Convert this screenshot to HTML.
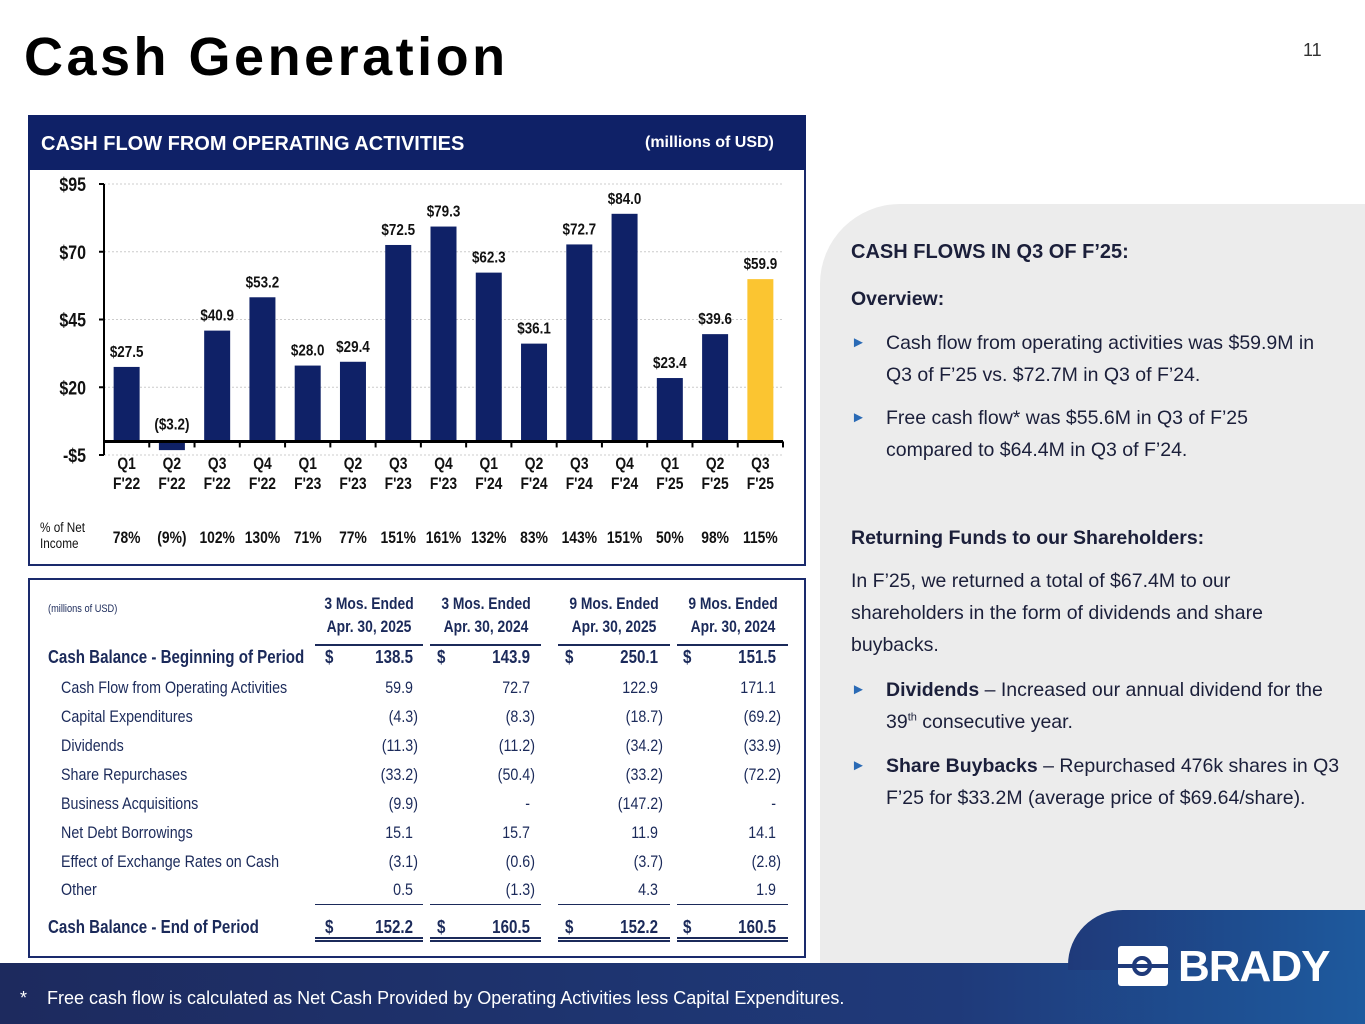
<!DOCTYPE html>
<html><head><meta charset="utf-8">
<style>
*{margin:0;padding:0;box-sizing:border-box}
body{width:1365px;height:1024px;position:relative;overflow:hidden;background:#fff;font-family:"Liberation Sans",sans-serif;color:#1b2a5a}
.abs{position:absolute}
.tr{position:absolute;font-size:16px;white-space:nowrap}
.nl{transform:scaleX(0.84);transform-origin:left center}
.nr{transform:scaleX(0.84);transform-origin:right center}
.nc{transform:scaleX(0.84);transform-origin:center center}
.r{text-align:right;width:100px}
.b{font-weight:bold}
.rt{position:absolute;left:851px;width:500px;font-size:19.5px;color:#1b1f3a;line-height:32px}
.bl{padding-left:35px}
.bl span.ar{position:absolute;left:0;color:#2a6ab5;font-size:15px}
</style></head><body>
<div class="abs b" style="left:24px;top:26px;font-size:54px;color:#000;letter-spacing:3.5px;font-weight:900">Cash Generation</div>
<div class="abs" style="left:1303px;top:40px;font-size:18px;color:#333">11</div>

<div class="abs" style="left:820px;top:204px;width:560px;height:780px;background:#ececec;border-top-left-radius:80px"></div>
<div class="rt b" style="top:236px;font-size:20px">CASH FLOWS IN Q3 OF F’25:</div>
<div class="rt b" style="top:283px">Overview:</div>
<div class="rt bl" style="top:327px;width:492px"><span class="ar">►</span>Cash flow from operating activities was $59.9M in Q3 of F’25 vs. $72.7M in Q3 of F’24.</div>
<div class="rt bl" style="top:402px;width:470px"><span class="ar">►</span>Free cash flow* was $55.6M in Q3 of F’25 compared to $64.4M in Q3 of F’24.</div>
<div class="rt b" style="top:522px">Returning Funds to our Shareholders:</div>
<div class="rt" style="top:565px;width:460px">In F’25, we returned a total of $67.4M to our shareholders in the form of dividends and share buybacks.</div>
<div class="rt bl" style="top:674px;width:495px"><span class="ar">►</span><b>Dividends</b> – Increased our annual dividend for the 39<sup style="font-size:11px;line-height:0">th</sup> consecutive year.</div>
<div class="rt bl" style="top:750px;width:495px"><span class="ar">►</span><b>Share Buybacks</b> – Repurchased 476k shares in Q3 F’25 for $33.2M (average price of $69.64/share).</div>

<div class="abs" style="left:28px;top:115px;width:778px;height:451px;border:2px solid #1a2a6c"></div>
<div class="abs" style="left:28px;top:115px;width:778px;height:55px;background:#0f2167"></div>
<div class="abs b" style="left:41px;top:133px;font-size:20px;color:#fff">CASH FLOW FROM OPERATING ACTIVITIES</div>
<div class="abs b" style="left:645px;top:134px;font-size:16px;color:#fff">(millions of USD)</div>
<svg class="abs" id="chart" style="left:0;top:0" width="820" height="570"></svg>

<div class="abs" style="left:28px;top:578px;width:778px;height:380px;border:2px solid #1a2a6c"></div>
<div id="tbl"></div>

<div class="abs" style="left:0;top:963px;width:1365px;height:61px;background:linear-gradient(90deg,#1d2a5e,#1f3a7a 70%,#1e5a9e)"></div>
<div class="abs" style="left:1068px;top:910px;width:300px;height:60px;background:linear-gradient(90deg,#1f3a7a,#1e5a9e);border-top-left-radius:55px"></div>
<div class="abs" style="left:1118px;top:946px;width:50px;height:40px;background:#fff;border-radius:3px"><div style="position:absolute;left:14px;top:10px;width:20px;height:20px;border-radius:50%;border:4px solid #1f3a7a"></div><div style="position:absolute;left:0;top:18px;width:50px;height:4px;background:#1f3a7a"></div></div>
<div class="abs b" style="left:1178px;top:942px;font-size:44px;color:#fff;letter-spacing:-1px">BRADY</div>
<div class="abs" style="left:20px;top:988px;font-size:18px;color:#fff">*&nbsp;&nbsp;&nbsp;&nbsp;Free cash flow is calculated as Net Cash Provided by Operating Activities less Capital Expenditures.</div>

<script>
const categories=["Q1|F'22","Q2|F'22","Q3|F'22","Q4|F'22","Q1|F'23","Q2|F'23","Q3|F'23","Q4|F'23","Q1|F'24","Q2|F'24","Q3|F'24","Q4|F'24","Q1|F'25","Q2|F'25","Q3|F'25"];
const values=[27.5,-3.2,40.9,53.2,28.0,29.4,72.5,79.3,62.3,36.1,72.7,84.0,23.4,39.6,59.9];
const pctNetIncome=["78%","(9%)","102%","130%","71%","77%","151%","161%","132%","83%","143%","151%","50%","98%","115%"];
const yTicks=[-5,20,45,70,95];
const yTickLabels=["-$5","$20","$45","$70","$95"];
const NS='http://www.w3.org/2000/svg';
const svg=document.getElementById('chart');
const yMin=-5,yMax=95,pTop=184,pBot=455,axX=104,pRight=783;
const y=v=>pBot-(v-yMin)/(yMax-yMin)*(pBot-pTop);
const step=(pRight-axX)/categories.length;
const xc=i=>axX+step*(i+0.5);
function mk(t,a){const e=document.createElementNS(NS,t);for(const k in a)e.setAttribute(k,a[k]);svg.appendChild(e);return e;}
function txt(x,yy,s,size,anchor,bold){const t=mk('text',{transform:`translate(${x} ${yy}) scale(0.84 1)`,'text-anchor':anchor,'font-size':size,'font-weight':bold?'bold':'normal',fill:'#111'});t.textContent=s;return t;}
yTicks.forEach((t,i)=>{
 const g=mk('line',{x1:axX,x2:pRight,y1:y(t),y2:y(t),stroke:'#ccc','stroke-dasharray':'2,2'});
 
 
 const l=txt(axX-18,y(t)+7,yTickLabels[i],19,'end',true);
 
 
 mk('line',{x1:axX-5,x2:axX,y1:y(t),y2:y(t),stroke:'#000','stroke-width':2});
});
const ax=mk('line',{x1:axX,x2:axX,y1:pTop,y2:pBot,stroke:'#000','stroke-width':2});


values.forEach((v,i)=>{
 const top=y(Math.max(v,0)),bot=y(Math.min(v,0));
 const r=mk('rect',{x:xc(i)-13,y:top,width:26,height:bot-top,fill:i===values.length-1?'#fbc531':'#0f2167'});
 
 
 const lbl=v<0?'($'+Math.abs(v).toFixed(1)+')':'$'+v.toFixed(1);
 const t=txt(xc(i),v<0?y(0)-12:top-10,lbl,16,'middle',true);
 
 
 const [q,f]=categories[i].split('|');
 [q,f].forEach((s,k)=>{const c=txt(xc(i),469+k*20,s,16.5,'middle',true);
 
 });
 const p=txt(xc(i),543,pctNetIncome[i],16.5,'middle',true);
 
 
 mk('line',{x1:axX+step*(i+1),x2:axX+step*(i+1),y1:y(0),y2:y(0)+6,stroke:'#000','stroke-width':2});
});
const base=mk('line',{x1:axX,x2:pRight,y1:y(0),y2:y(0),stroke:'#000','stroke-width':3});


['% of Net','Income'].forEach((s,k)=>{const t=txt(40,532+k*16,s,14,'start',false);
 
 });

const rows=[
 ["Cash Balance - Beginning of Period","138.5","143.9","250.1","151.5",1],
 ["Cash Flow from Operating Activities","59.9","72.7","122.9","171.1",0],
 ["Capital Expenditures","(4.3)","(8.3)","(18.7)","(69.2)",0],
 ["Dividends","(11.3)","(11.2)","(34.2)","(33.9)",0],
 ["Share Repurchases","(33.2)","(50.4)","(33.2)","(72.2)",0],
 ["Business Acquisitions","(9.9)","-","(147.2)","-",0],
 ["Net Debt Borrowings","15.1","15.7","11.9","14.1",0],
 ["Effect of Exchange Rates on Cash","(3.1)","(0.6)","(3.7)","(2.8)",0],
 ["Other","0.5","(1.3)","4.3","1.9",0],
 ["Cash Balance - End of Period","152.2","160.5","152.2","160.5",1]];
const rowY=[647,678,707,736,765,794,823,852,880,917];
const colR=[413,530,658,776],colD=[325,437,565,683],seg=[[315,423],[430,541],[558,670],[677,788]];
const hdr=[["3 Mos. Ended","Apr. 30, 2025"],["3 Mos. Ended","Apr. 30, 2024"],["9 Mos. Ended","Apr. 30, 2025"],["9 Mos. Ended","Apr. 30, 2024"]];
let h='<div class="tr nl" style="left:48px;top:603px;font-size:11px">(millions of USD)</div>';
hdr.forEach((c,i)=>{const cx=(seg[i][0]+seg[i][1])/2;
 h+=`<div class="tr nc b" style="left:${cx-70}px;width:140px;text-align:center;top:593px;line-height:23px;font-size:16.5px">${c[0]}<br>${c[1]}</div>`;
 h+=`<div class="abs" style="left:${seg[i][0]}px;top:644px;width:${seg[i][1]-seg[i][0]}px;height:2px;background:#1b2a5a"></div>`;
 h+=`<div class="abs" style="left:${seg[i][0]}px;top:904px;width:${seg[i][1]-seg[i][0]}px;height:1px;background:#1b2a5a"></div>`;
 h+=`<div class="abs" style="left:${seg[i][0]}px;top:937px;width:${seg[i][1]-seg[i][0]}px;height:5px;border-top:2px solid #1b2a5a;border-bottom:2px solid #1b2a5a"></div>`;});
rows.forEach((r,j)=>{const b=r[5]?' b':'';const fs=r[5]?18:17;
 h+=`<div class="tr nl${b}" style="left:${r[5]?48:61}px;top:${rowY[j]}px;font-size:${fs}px">${r[0]}</div>`;
 for(let i=0;i<4;i++){const v=r[i+1];const par=v.endsWith(')');
  if(r[5])h+=`<div class="tr nl b" style="left:${colD[i]}px;top:${rowY[j]}px;font-size:${fs}px">$</div>`;
  h+=`<div class="tr nr r${b}" style="left:${colR[i]-100+(par?5:0)}px;top:${rowY[j]}px;font-size:${fs}px">${v}</div>`;}
});
document.getElementById('tbl').innerHTML=h;
</script>
</body></html>
